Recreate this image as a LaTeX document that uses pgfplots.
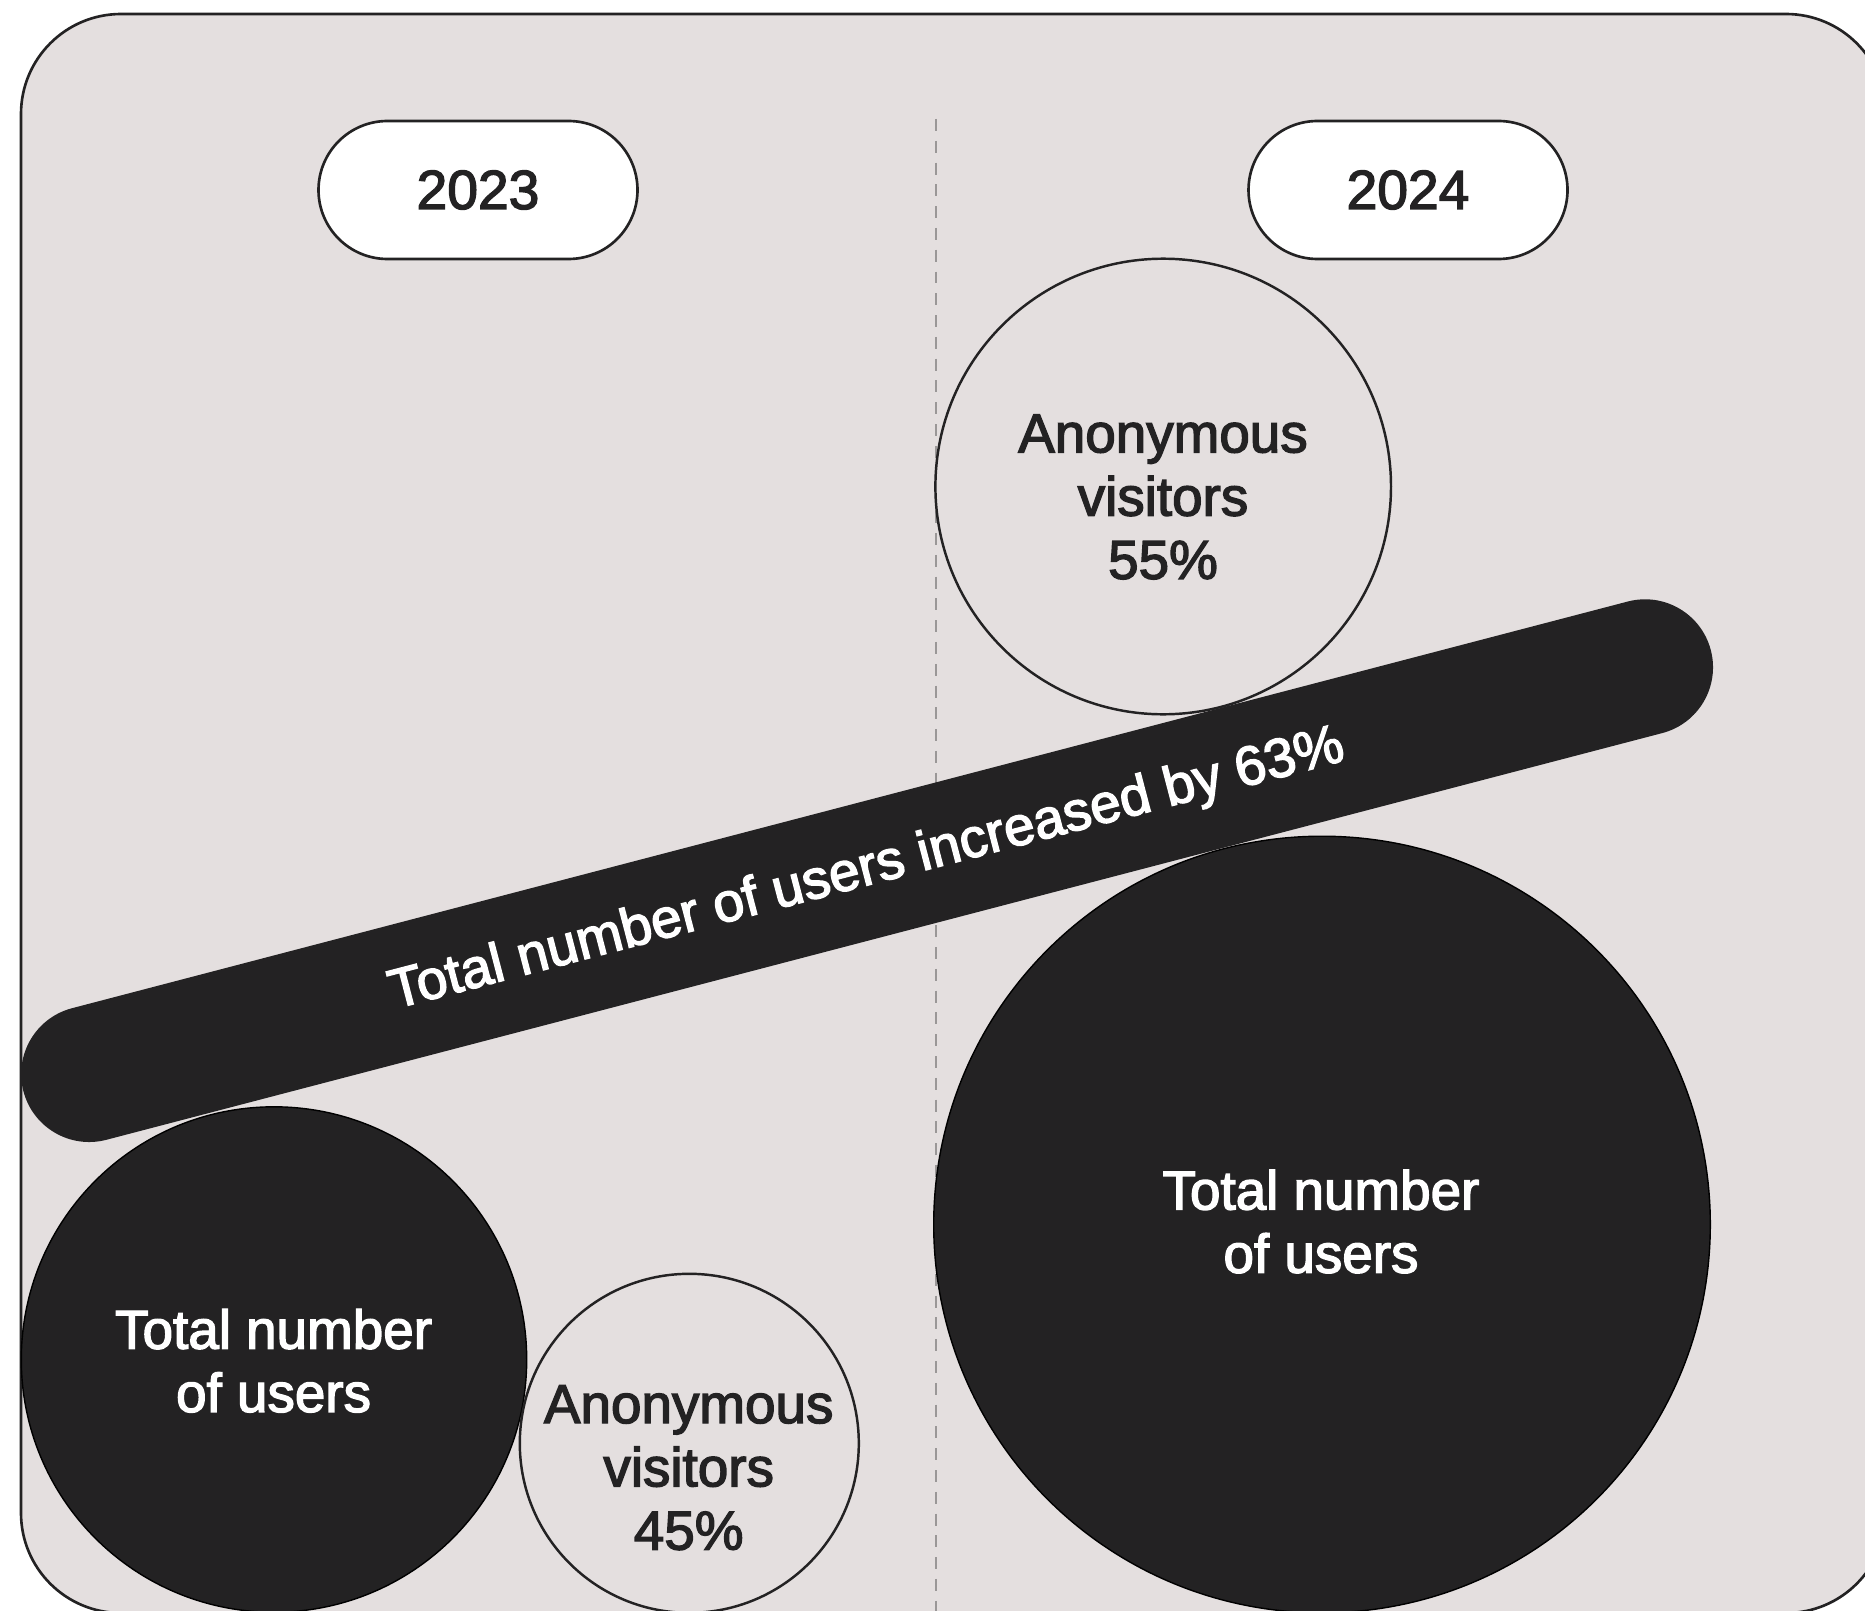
\documentclass[border=0pt]{standalone}
\usepackage{pgfplots}
\pgfplotsset{compat=1.18}
\usepackage{pgfplotstable}
\usepackage{fontspec}
\setmainfont{Liberation Sans}
\newfontfamily\labfont{Liberation Sans}[FakeBold=2.5]
\definecolor{dark}{HTML}{232223}
\definecolor{panel}{HTML}{E4DFDF}
\definecolor{divider}{HTML}{9A9797}

\pgfplotstableread{
x y label
478 190 2023
1408 190 2024
}\pilltable

\pgfplotstableread{
x y label
273.6 1360.7 {Total number\\of users}
1321 1221.5 {Total number\\of users}
}\whitelabels

\pgfplotstableread{
x y label
688.7 1467.7 {Anonymous\\visitors\\45\%}
1163 497 {Anonymous\\visitors\\55\%}
}\darklabels

\begin{document}
\begin{tikzpicture}
\useasboundingbox (0,0) rectangle (18.65cm,16.11cm);
\begin{axis}[
  at={(0,0)}, anchor=south west,
  width=18.65cm, height=16.11cm, scale only axis,
  xmin=0, xmax=1865, ymin=0, ymax=1611, y dir=reverse,
  hide axis, clip=true,
]
% panel
\draw[fill=panel, draw=dark, line width=0.75pt, rounded corners=1cm]
  (axis cs:21,14) rectangle (axis cs:1886,1613);
% divider
\addplot[divider, line width=0.55pt, dash pattern=on 3.4pt off 2.8pt]
  coordinates {(936,119) (936,1615)};
% pills
\addplot[only marks, mark=none, point meta=explicit symbolic, nodes near coords,
  nodes near coords style={anchor=center, draw=dark, fill=white, line width=0.75pt,
    rounded corners=0.69cm, minimum width=3.19cm, minimum height=1.38cm,
    text=dark, font=\labfont\fontsize{15.7}{18}\selectfont}]
  table[meta=label] {\pilltable};
% bubbles
\addplot[only marks, mark=*, mark size=2.527cm, mark options={draw=none, fill=dark}]
  coordinates {(274,1359.5)};
\addplot[only marks, mark=*, mark size=1.695cm, mark options={draw=dark, fill=panel, line width=0.7pt}]
  coordinates {(689.3,1443.3)};
\addplot[only marks, mark=*, mark size=2.278cm, mark options={draw=dark, fill=panel, line width=0.7pt}]
  coordinates {(1163.2,486.5)};
\addplot[only marks, mark=*, mark size=3.883cm, mark options={draw=none, fill=dark}]
  coordinates {(1322,1224.5)};
% banner
\addplot[dark, line width=1.36cm, line cap=round]
  coordinates {(89.2,1074) (1645,667.3)}
  node[pos=0.5, sloped, text=white, font=\labfont\fontsize{15.7}{18}\selectfont]
  {Total number of users increased by 63\%};
% labels
\addplot[only marks, mark=none, point meta=explicit symbolic, nodes near coords,
  nodes near coords style={anchor=center, align=center, text=white,
    font=\labfont\fontsize{15.6}{18}\selectfont}]
  table[meta=label] {\whitelabels};
\addplot[only marks, mark=none, point meta=explicit symbolic, nodes near coords,
  nodes near coords style={anchor=center, align=center, text=dark,
    font=\labfont\fontsize{15.6}{18}\selectfont}]
  table[meta=label] {\darklabels};
\end{axis}
\end{tikzpicture}
\end{document}
